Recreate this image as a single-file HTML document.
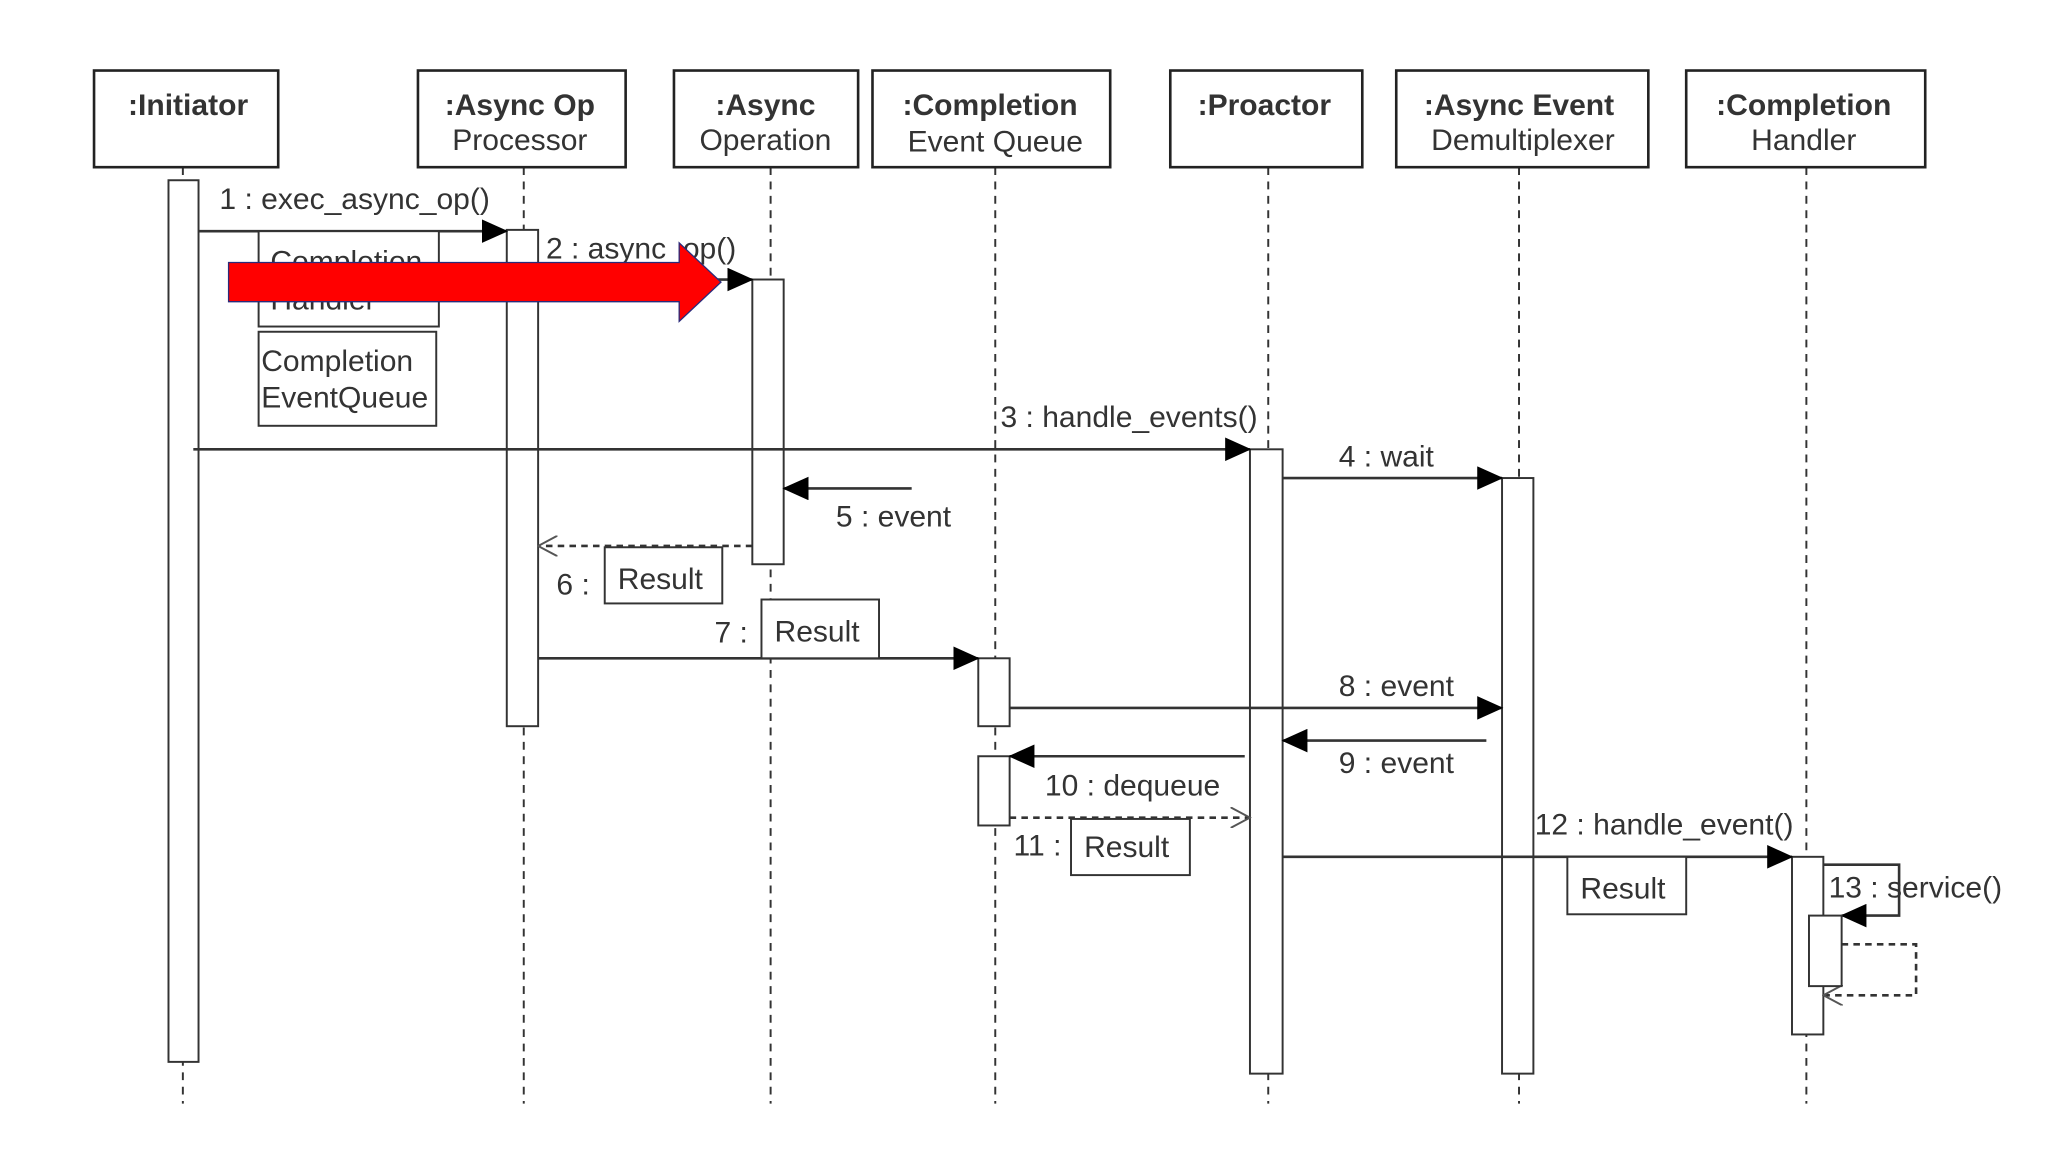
<!DOCTYPE html>
<html><head><meta charset="utf-8"><style>
html,body{margin:0;padding:0;background:#fff;}
svg{display:block;}
text{font-family:"Liberation Sans",sans-serif;fill:#333;}
</style></head><body>
<svg width="2048" height="1152" viewBox="0 0 1568 882" xmlns="http://www.w3.org/2000/svg">
<defs>
<marker id="f" markerWidth="20" markerHeight="18" refX="19" refY="9" orient="auto" markerUnits="userSpaceOnUse"><path d="M0,0 L20,9 L0,18 z" fill="#000"/></marker>
<marker id="o" markerWidth="16" markerHeight="16" refX="15" refY="8" orient="auto" markerUnits="userSpaceOnUse"><path d="M0,0 L15,8 L0,16" fill="none" stroke="#555" stroke-width="1.5"/></marker>
</defs>
<rect width="1568" height="882" fill="#fff"/>
<g stroke="#333" stroke-width="1.5" stroke-dasharray="6,5">
<line x1="140" y1="128" x2="140" y2="845"/>
<line x1="401" y1="128" x2="401" y2="845"/>
<line x1="590" y1="128" x2="590" y2="845"/>
<line x1="762" y1="128" x2="762" y2="845"/>
<line x1="971" y1="128" x2="971" y2="845"/>
<line x1="1163" y1="128" x2="1163" y2="845"/>
<line x1="1383" y1="128" x2="1383" y2="845"/>
</g>
<g fill="#fff" stroke="#222" stroke-width="2">
<rect x="72" y="54" width="141" height="74"/>
<rect x="320" y="54" width="159" height="74"/>
<rect x="516" y="54" width="141" height="74"/>
<rect x="668" y="54" width="182" height="74"/>
<rect x="896" y="54" width="147" height="74"/>
<rect x="1069" y="54" width="193" height="74"/>
<rect x="1291" y="54" width="183" height="74"/>
</g>
<g font-size="23" text-anchor="middle">
<text x="144" y="88" font-weight="bold" fill="#222">:Initiator</text>
<text x="398" y="88" font-weight="bold" fill="#222">:Async Op</text><text x="398" y="115">Processor</text>
<text x="586" y="88" font-weight="bold" fill="#222">:Async</text><text x="586" y="115">Operation</text>
<text x="758" y="88" font-weight="bold" fill="#222">:Completion</text><text x="762" y="116">Event Queue</text>
<text x="968" y="88" font-weight="bold" fill="#222">:Proactor</text>
<text x="1163" y="88" font-weight="bold" fill="#222">:Async Event</text><text x="1166" y="115">Demultiplexer</text>
<text x="1381" y="88" font-weight="bold" fill="#222">:Completion</text><text x="1381" y="115">Handler</text>
</g>
<g fill="#fff" stroke="#333" stroke-width="1.5">
<rect x="129" y="138" width="23" height="675"/>
<rect x="388" y="176" width="24" height="380"/>
<rect x="576" y="214" width="24" height="218"/>
<rect x="749" y="504" width="24" height="52"/>
<rect x="749" y="579" width="24" height="53"/>
<rect x="957" y="344" width="25" height="478"/>
<rect x="1150" y="366" width="24" height="456"/>
<rect x="1372" y="656" width="24" height="136"/>
</g>
<g stroke="#333" stroke-width="2" fill="none">
<line x1="152" y1="177" x2="388" y2="177" marker-end="url(#f)"/>
<line x1="412" y1="214" x2="576" y2="214" marker-end="url(#f)"/>
<line x1="148" y1="344" x2="957" y2="344" marker-end="url(#f)"/>
<line x1="982" y1="366" x2="1150" y2="366" marker-end="url(#f)"/>
<line x1="698" y1="374" x2="600" y2="374" marker-end="url(#f)"/>
<line x1="576" y1="418" x2="412" y2="418" stroke-dasharray="5,4" marker-end="url(#o)"/>
<line x1="412" y1="504" x2="749" y2="504" marker-end="url(#f)"/>
<line x1="773" y1="542" x2="1150" y2="542" marker-end="url(#f)"/>
<line x1="1138" y1="567" x2="982" y2="567" marker-end="url(#f)"/>
<line x1="953" y1="579" x2="773" y2="579" marker-end="url(#f)"/>
<line x1="773" y1="626" x2="957" y2="626" stroke-dasharray="5,4" marker-end="url(#o)"/>
<line x1="982" y1="656" x2="1372" y2="656" marker-end="url(#f)"/>
<polyline points="1396,662 1454,662 1454,701 1410,701" marker-end="url(#f)"/>
<polyline points="1410,723 1467,723 1467,762 1396,762" stroke-dasharray="5,4" marker-end="url(#o)"/>
</g>
<rect x="1385" y="701" width="25" height="54" fill="#fff" stroke="#333" stroke-width="1.5"/>
<g fill="#fff" stroke="#333" stroke-width="1.5">
<rect x="198" y="177" width="138" height="73"/>
<rect x="198" y="254" width="136" height="72"/>
<rect x="463" y="419" width="90" height="43"/>
<rect x="583" y="459" width="90" height="45"/>
<rect x="820" y="627" width="91" height="43"/>
<rect x="1200" y="656" width="91" height="44"/>
</g>
<g font-size="23">
<text x="207" y="208">Completion</text>
<text x="207" y="237">Handler</text>
<text x="200" y="284">Completion</text>
<text x="200" y="312">EventQueue</text>
<text x="473" y="451">Result</text>
<text x="593" y="491">Result</text>
<text x="830" y="656">Result</text>
<text x="1210" y="688">Result</text>
<text x="168" y="160">1 : exec_async_op()</text>
<text x="418" y="198">2 : async_op()</text>
<text x="766" y="327">3 : handle_events()</text>
<text x="1025" y="357">4 : wait</text>
<text x="640" y="403">5 : event</text>
<text x="426" y="455">6 :</text>
<text x="547" y="492">7 :</text>
<text x="1025" y="533">8 : event</text>
<text x="1025" y="592">9 : event</text>
<text x="800" y="609">10 : dequeue</text>
<text x="776" y="655">11 :</text>
<text x="1175" y="639">12 : handle_event()</text>
<text x="1400" y="687">13 : service()</text>
</g>
<polygon points="175,201 520,201 520,186 552,216 520,246 520,231 175,231" fill="#f00" stroke="#2a2a7a" stroke-width="1"/>
</svg>
</body></html>
